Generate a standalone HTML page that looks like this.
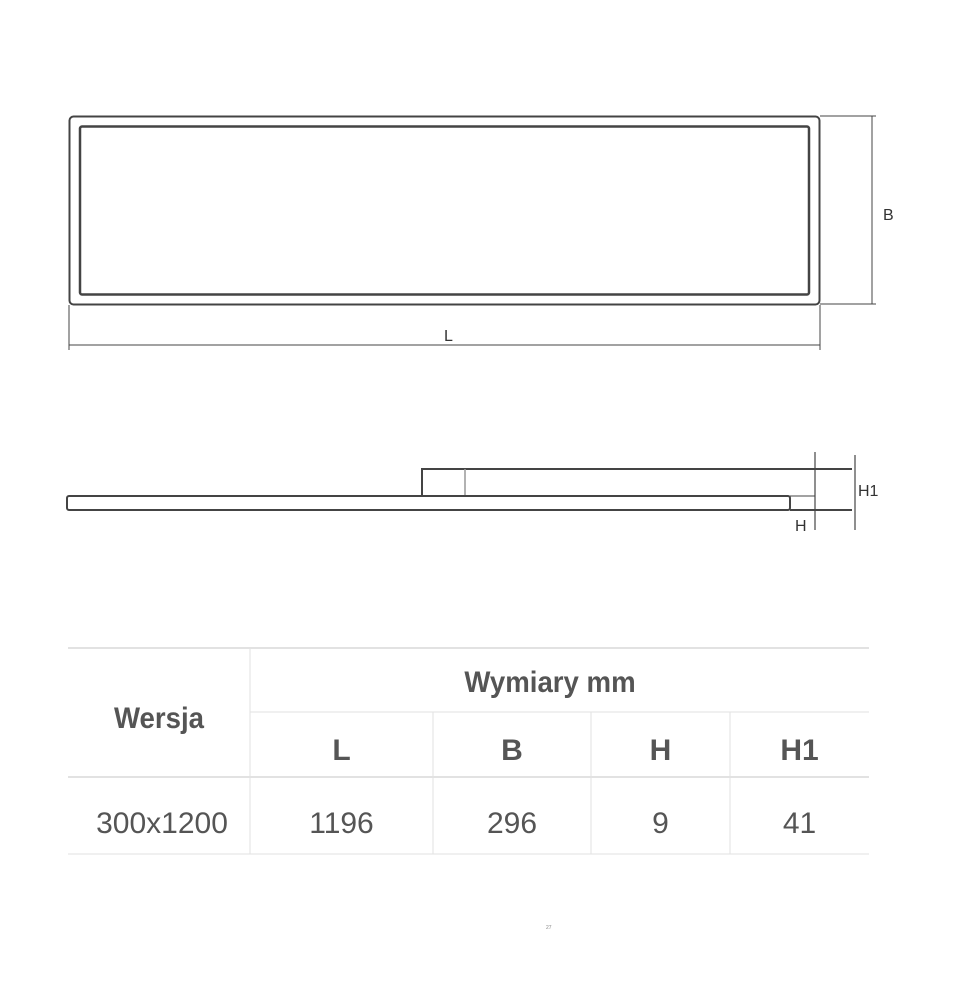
<!DOCTYPE html>
<html><head><style>
body{margin:0;background:#fff;width:953px;height:1000px;position:relative;font-family:"Liberation Sans",sans-serif;overflow:hidden}
.t{position:absolute;color:#555;font-family:"Liberation Sans Narrow","Liberation Sans",sans-serif;text-align:center}
</style></head><body>
<svg width="953" height="1000" style="position:absolute;left:0;top:0" font-family="Liberation Sans">
<g fill="none" stroke="#444">
<rect x="69.5" y="116.5" width="750" height="188" rx="4" stroke-width="2"/>
<rect x="80" y="126.5" width="729" height="168" rx="2" stroke-width="2.5"/>
<line x1="820" y1="116" x2="876" y2="116" stroke-width="1"/>
<line x1="820" y1="304" x2="876" y2="304" stroke-width="1"/>
<line x1="872" y1="116" x2="872" y2="304" stroke-width="1"/>
<line x1="69" y1="305" x2="69" y2="350" stroke-width="1"/>
<line x1="820" y1="305" x2="820" y2="350" stroke-width="1"/>
<line x1="69" y1="345" x2="820" y2="345" stroke-width="1"/>
<path d="M422 496 V469 H852" stroke-width="2"/>
<line x1="465" y1="469" x2="465" y2="496" stroke="#999" stroke-width="1.5"/>
<rect x="67" y="496" width="723" height="14" rx="2" stroke-width="2"/>
<line x1="790" y1="510" x2="852" y2="510" stroke-width="2"/>
<line x1="790" y1="496" x2="815" y2="496" stroke-width="1"/>
<line x1="815" y1="452" x2="815" y2="530" stroke-width="1.2"/>
<line x1="855" y1="455" x2="855" y2="530" stroke-width="1.2"/>
<g stroke="#e2e2e2" stroke-width="2">
<line x1="68" y1="648" x2="869" y2="648"/>
<line x1="250" y1="712" x2="869" y2="712" stroke-width="1"/>
<line x1="68" y1="777" x2="869" y2="777"/>
<line x1="68" y1="854" x2="869" y2="854" stroke-width="1"/>
<line x1="250" y1="648" x2="250" y2="854" stroke-width="1"/>
<line x1="433" y1="712" x2="433" y2="854" stroke-width="1"/>
<line x1="591" y1="712" x2="591" y2="854" stroke-width="1"/>
<line x1="730" y1="712" x2="730" y2="854" stroke-width="1"/>
</g>
</g>
<g fill="#333" font-size="16">
<text x="883" y="220">B</text>
<text x="444" y="341">L</text>
<text x="858" y="496">H1</text>
<text x="795" y="531">H</text>
</g>
<text x="546" y="929" font-size="5" fill="#888">27</text>
</svg>
<div class="t" style="left:68px;top:702px;width:182px;font-size:30px;font-weight:bold;transform:scaleX(0.92)">Wersja</div>
<div class="t" style="left:250px;top:666px;width:600px;font-size:30px;font-weight:bold;transform:scaleX(0.92)">Wymiary mm</div>
<div class="t" style="left:250px;top:734px;width:183px;font-size:30px;font-weight:bold">L</div>
<div class="t" style="left:433px;top:734px;width:158px;font-size:30px;font-weight:bold">B</div>
<div class="t" style="left:591px;top:734px;width:139px;font-size:30px;font-weight:bold">H</div>
<div class="t" style="left:730px;top:734px;width:139px;font-size:30px;font-weight:bold">H1</div>
<div class="t" style="left:68px;top:807px;width:188px;font-size:30px">300x1200</div>
<div class="t" style="left:250px;top:807px;width:183px;font-size:30px">1196</div>
<div class="t" style="left:433px;top:807px;width:158px;font-size:30px">296</div>
<div class="t" style="left:591px;top:807px;width:139px;font-size:30px">9</div>
<div class="t" style="left:730px;top:807px;width:139px;font-size:30px">41</div>
</body></html>
